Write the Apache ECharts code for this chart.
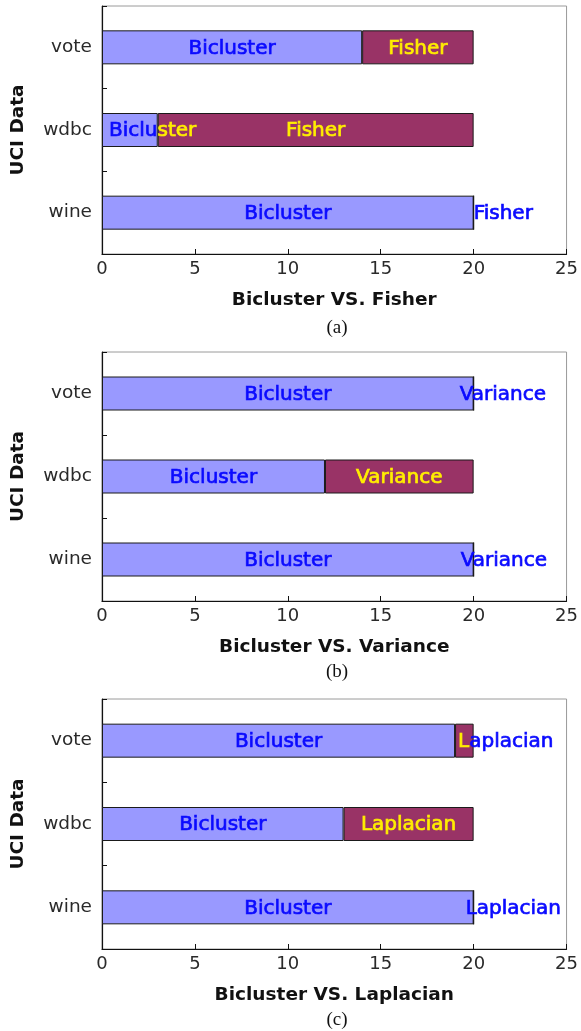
<!DOCTYPE html>
<html>
<head>
<meta charset="utf-8">
<script src="https://cdn.jsdelivr.net/npm/echarts@6/dist/echarts.min.js"></script>
<style>
html,body{margin:0;padding:0;background:#fff;}
#c{width:581px;height:1031px;}
</style>
</head>
<body>
<div id="c"></div>
<script>
// ---- data ----
const categories = ['wine', 'wdbc', 'vote'];
const xTicks = [0, 5, 10, 15, 20, 25];
const panelTitles = ['Bicluster VS. Fisher', 'Bicluster VS. Variance', 'Bicluster VS. Laplacian'];
const otherNames = ['Fisher', 'Variance', 'Laplacian'];
const captions = ['(a)', '(b)', '(c)'];
const biclusterName = 'Bicluster';
const biclusterA = [20, 3, 14];
const fisherA = [0, 17, 6];
const biclusterB = [20, 12, 20];
const varianceB = [0, 8, 0];
const biclusterC = [20, 13, 19];
const laplacianC = [0, 7, 1];

// ---- layout / style ----
const bicluster = [biclusterA, biclusterB, biclusterC];
const others = [fisherA, varianceB, laplacianC];
const gridTops = [6, 352, 699];
const gridHeights = [248, 249, 250];
const captionY = [328.5, 672, 1020];
const GL = 102, GW = 466;
const BLUE_BAR = '#9999ff', MAROON = '#993366';
const BLUE_TXT = '#0a0aff', YELLOW_TXT = '#ffee00';
const LABEL_FONT = '20px "DejaVu Sans"';
// label nudges (offset of label start from segment start) for labels that don't fit
const nudges = [{0: 0}, {0: -13, 2: -14}, {0: -8, 2: 3}];

const ctx = document.createElement('canvas').getContext('2d');
ctx.font = LABEL_FONT;
function tw(s) { return ctx.measureText(s).width; }

const chart = echarts.init(document.getElementById('c'), null, {renderer: 'canvas'});
const grid = [], xAxis = [], yAxis = [], series = [], graphic = [];

for (let p = 0; p < 3; p++) {
  grid.push({left: GL, width: GW, top: gridTops[p], height: gridHeights[p],
    show: true, borderColor: '#9a9a9a', borderWidth: 1, backgroundColor: 'transparent'});
  xAxis.push({
    gridIndex: p, type: 'value', min: xTicks[0], max: xTicks[xTicks.length - 1], interval: 5,
    splitLine: {show: false},
    axisLine: {show: true, lineStyle: {color: '#111', width: 1.2}},
    axisTick: {show: true, inside: true, length: 5, lineStyle: {color: '#111'}},
    axisLabel: {margin: 6, fontSize: 18, color: '#2a2a2a', fontFamily: 'DejaVu Sans'},
    name: panelTitles[p], nameLocation: 'middle', nameGap: 37,
    nameTextStyle: {fontSize: 18.5, fontWeight: 'bold', color: '#111', fontFamily: 'DejaVu Sans'}
  });
  yAxis.push({
    gridIndex: p, type: 'category', data: categories,
    axisLine: {show: true, lineStyle: {color: '#111', width: 1.2}},
    axisTick: {show: true, inside: true, length: 5, lineStyle: {color: '#111'}},
    axisLabel: {margin: 10, fontSize: 18.5, color: '#2a2a2a', fontFamily: 'DejaVu Sans'},
    name: 'UCI Data', nameLocation: 'middle', nameRotate: 90, nameGap: 74,
    nameTextStyle: {fontSize: 18.5, fontWeight: 'bold', color: '#111', fontFamily: 'DejaVu Sans'}
  });
  series.push({
    type: 'bar', name: biclusterName, xAxisIndex: p, yAxisIndex: p, stack: 's' + p,
    barWidth: 34, data: bicluster[p], silent: true,
    itemStyle: {color: BLUE_BAR, borderColor: '#1a1a1a', borderWidth: 1}
  });
  series.push({
    type: 'bar', name: otherNames[p], xAxisIndex: p, yAxisIndex: p, stack: 's' + p,
    barWidth: 34, data: others[p], silent: true,
    itemStyle: {color: MAROON, borderColor: '#1a1a1a', borderWidth: 1}
  });
  const labelData = categories.map((c, i) => [i, bicluster[p][i], others[p][i]]);
  const pi = p;
  series.push({
    type: 'custom', xAxisIndex: p, yAxisIndex: p, data: labelData, z: 10, silent: true,
    renderItem: function (params, api) {
      const ci = api.value(0), b = api.value(1), o = api.value(2);
      const p0 = api.coord([0, ci]), p1 = api.coord([b, ci]), p2 = api.coord([b + o, ci]);
      const y = p0[1];
      const segs = [
        {text: biclusterName, s0: p0[0], s1: p1[0], nudge: undefined},
        {text: otherNames[pi], s0: p1[0], s1: p2[0], nudge: nudges[pi][ci]}
      ];
      const children = [];
      segs.forEach(sg => {
        const w = tw(sg.text);
        let left = (sg.s0 + sg.s1) / 2 - w / 2;
        if (sg.nudge !== undefined) left = sg.s0 + sg.nudge;
        if (left < p0[0] + 7) left = p0[0] + 7;
        // split into colour runs: yellow over maroon, blue elsewhere
        let runs = [];
        for (let k = 0; k < sg.text.length; k++) {
          const a = tw(sg.text.slice(0, k)), e = tw(sg.text.slice(0, k + 1));
          const cx = left + (a + e) / 2;
          const col = (o > 0 && cx > p1[0] && cx < p2[0]) ? YELLOW_TXT : BLUE_TXT;
          if (runs.length && runs[runs.length - 1].col === col) runs[runs.length - 1].s += sg.text[k];
          else runs.push({col: col, s: sg.text[k], start: k});
        }
        runs.forEach(r => {
          children.push({
            type: 'text', x: left + tw(sg.text.slice(0, r.start)), y: y + 1,
            style: {text: r.s, fill: r.col, stroke: r.col, lineWidth: 0.7,
              font: LABEL_FONT, align: 'left', verticalAlign: 'middle'}
          });
        });
      });
      return {type: 'group', children: children};
    }
  });
  graphic.push({
    type: 'text', x: GL + GW / 2 + 2, y: captionY[p],
    style: {text: captions[p], font: '19px "Liberation Serif"', fill: '#111',
      align: 'center', verticalAlign: 'middle'}
  });
}

chart.setOption({
  animation: false,
  backgroundColor: '#fff',
  grid: grid, xAxis: xAxis, yAxis: yAxis, series: series, graphic: graphic
});
</script>
</body>
</html>
